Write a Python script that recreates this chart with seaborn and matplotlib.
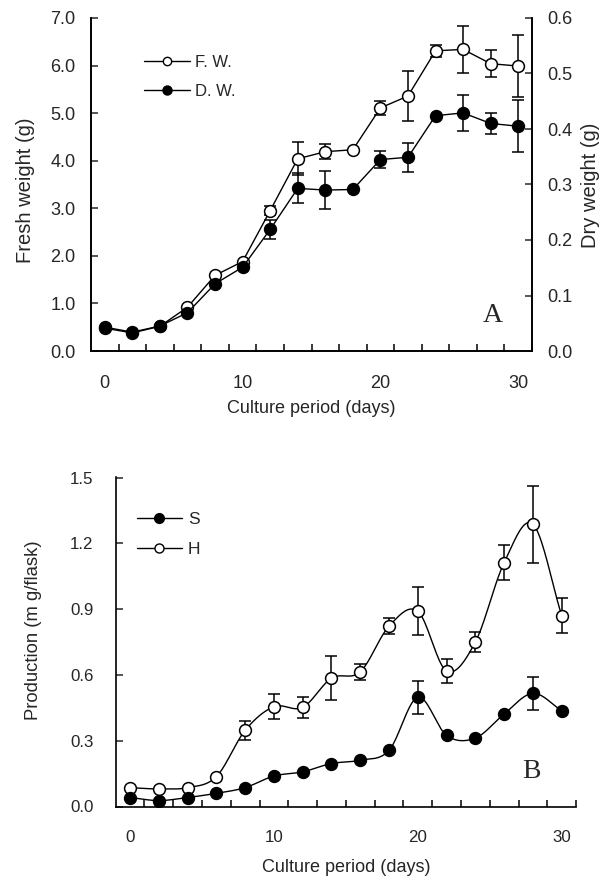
import numpy as np
import pandas as pd
import matplotlib
matplotlib.use("Agg")
import matplotlib.pyplot as plt
from matplotlib.lines import Line2D
from matplotlib.ticker import FormatStrFormatter, MultipleLocator, FixedLocator
from matplotlib import font_manager
import seaborn as sns

# ---------------- data ----------------
days = [0, 2, 4, 6, 8, 10, 12, 14, 16, 18, 20, 22, 24, 26, 28, 30]

# Panel A: fresh weight (g, left axis) and dry weight (g, right axis)
fresh_weight = [0.48, 0.38, 0.52, 0.92, 1.59, 1.88, 2.95, 4.04, 4.19, 4.23, 5.11, 5.36, 6.31, 6.34, 6.04, 5.99]
fresh_err = [0.0, 0.0, 0.0, 0.0, 0.0, 0.0, 0.10, 0.35, 0.16, 0.0, 0.15, 0.53, 0.13, 0.50, 0.28, 0.65]
dry_weight = [0.043, 0.034, 0.045, 0.069, 0.121, 0.151, 0.219, 0.293, 0.290, 0.291, 0.345, 0.349, 0.424, 0.429, 0.410, 0.405]
dry_err = [0.0, 0.0, 0.0, 0.0, 0.0, 0.0, 0.017, 0.027, 0.034, 0.0, 0.015, 0.026, 0.0, 0.032, 0.019, 0.047]

# Panel B: production (mg/flask)
prod_S = [0.041, 0.027, 0.041, 0.060, 0.086, 0.139, 0.158, 0.196, 0.211, 0.256, 0.498, 0.324, 0.312, 0.422, 0.516, 0.437]
err_S = [0, 0, 0, 0, 0, 0, 0, 0, 0, 0, 0.075, 0, 0, 0, 0.075, 0]
prod_H = [0.086, 0.080, 0.086, 0.136, 0.347, 0.455, 0.452, 0.585, 0.614, 0.822, 0.890, 0.618, 0.750, 1.112, 1.287, 0.870]
err_H = [0, 0, 0, 0, 0.045, 0.056, 0.047, 0.10, 0.037, 0.037, 0.11, 0.056, 0.045, 0.08, 0.175, 0.08]

legend_A = ["F. W.", "D. W."]
legend_B = ["S", "H"]

# ---------------- style ----------------
sns.set_theme(style="ticks")
plt.rcParams["font.family"] = ["Liberation Sans", "DejaVu Sans"]
plt.rcParams["axes.linewidth"] = 1.2

names = {f.name for f in font_manager.fontManager.ttflist}
TICKFONT = "Liberation Sans Narrow" if "Liberation Sans Narrow" in names else "Liberation Sans"
tick_scale = 1.0 if TICKFONT == "Liberation Sans Narrow" else 0.9

W, H = 614, 881
fig = plt.figure(figsize=(W / 100, H / 100), dpi=100)


def px_axes(l, t, r, b):
    return fig.add_axes([l / W, 1 - b / H, (r - l) / W, (b - t) / H])


def smooth(x, y, n=20):
    # Catmull-Rom style rendering of the line through the data points
    x = np.asarray(x, float)
    y = np.asarray(y, float)
    m = np.gradient(y, x)
    xs, ys = [], []
    for i in range(len(x) - 1):
        h = x[i + 1] - x[i]
        t = np.linspace(0, 1, n, endpoint=False)
        h00 = 2 * t**3 - 3 * t**2 + 1
        h10 = t**3 - 2 * t**2 + t
        h01 = -2 * t**3 + 3 * t**2
        h11 = t**3 - t**2
        xs.append(x[i] + t * h)
        ys.append(h00 * y[i] + h10 * h * m[i] + h01 * y[i + 1] + h11 * h * m[i + 1])
    xs.append([x[-1]])
    ys.append([y[-1]])
    return np.concatenate(xs), np.concatenate(ys)


def set_tickfont(ax, size):
    for lab in ax.get_xticklabels() + ax.get_yticklabels():
        lab.set_family([TICKFONT, "DejaVu Sans"])
        lab.set_fontsize(size * tick_scale)


def style_x(ax, labelpad):
    ax.set_xlim(-1, 31)
    ax.xaxis.set_major_locator(FixedLocator([0, 10, 20, 30]))
    ax.xaxis.set_minor_locator(FixedLocator(list(range(1, 32, 2))))
    ax.tick_params(axis="x", which="major", length=0, pad=17)
    ax.tick_params(axis="x", which="minor", direction="in", length=5, width=1.1, color="black")
    ax.set_xlabel("Culture period (days)", fontsize=13, labelpad=labelpad)


ebkw = dict(fmt="none", ecolor="black", elinewidth=1.1, capsize=4.5, capthick=1.1)

# ---------------- Panel A ----------------
axA = px_axes(91, 18, 532, 351)
axA2 = axA.twinx()

axA.errorbar(days, fresh_weight, yerr=fresh_err, zorder=2, **ebkw)
sns.lineplot(x=days, y=fresh_weight, ax=axA, color="black", linewidth=1.0,
             marker="o", markersize=8.5, markerfacecolor="white",
             markeredgecolor="black", markeredgewidth=1.1, zorder=3)
axA2.errorbar(days, dry_weight, yerr=dry_err, zorder=2, **ebkw)
sns.lineplot(x=days, y=dry_weight, ax=axA2, color="black", linewidth=1.0,
             marker="o", markersize=8.5, markerfacecolor="black",
             markeredgecolor="black", markeredgewidth=1.1, zorder=3)

axA.set_ylim(0, 7)
axA.yaxis.set_major_locator(MultipleLocator(1.0))
axA.yaxis.set_major_formatter(FormatStrFormatter("%.1f"))
axA2.set_ylim(0, 0.6)
axA2.yaxis.set_major_locator(MultipleLocator(0.1))
axA2.yaxis.set_major_formatter(FormatStrFormatter("%.1f"))
style_x(axA, 6)
axA.tick_params(axis="y", direction="in", length=5, width=1.1, pad=11)
axA2.tick_params(axis="y", direction="in", length=5, width=1.1, pad=11)
set_tickfont(axA, 14.5)
set_tickfont(axA2, 14.5)
axA.set_ylabel("Fresh weight (g)", fontsize=14.5)
axA.yaxis.set_label_coords(-0.127, 0.483)
axA2.set_ylabel("Dry weight (g)", fontsize=14.5)
axA2.yaxis.set_label_coords(1.112, 0.498)
for a in (axA, axA2):
    a.spines["top"].set_visible(False)
    for s in ("left", "right", "bottom"):
        a.spines[s].set_color("black")
        a.spines[s].set_linewidth(1.2)
axA.text(0.911, 0.108, "A", transform=axA.transAxes, ha="center", va="center",
         fontsize=20, family=["Liberation Serif", "DejaVu Serif"])

hA = [Line2D([], [], color="black", lw=1.0, marker="o", ms=6, mfc="white", mec="black", mew=1.0),
      Line2D([], [], color="black", lw=1.0, marker="o", ms=6.5, mfc="black", mec="black")]
legA = axA.legend(hA, legend_A, loc="upper left", bbox_to_anchor=(144 / W, 1 - 55 / H),
                  bbox_transform=fig.transFigure, frameon=False, fontsize=12,
                  handlelength=2.75, handletextpad=0.3, labelspacing=0.82,
                  borderpad=0, borderaxespad=0)
legA.set_zorder(10)

# ---------------- Panel B ----------------
axB = px_axes(115.6, 477.5, 576.1, 806.5)
axB.errorbar(days, prod_H, yerr=err_H, zorder=2, **ebkw)
axB.errorbar(days, prod_S, yerr=err_S, zorder=2, **ebkw)
xh, yh = smooth(days, prod_H)
xs_, ys_ = smooth(days, prod_S)
sns.lineplot(x=xh, y=yh, ax=axB, color="black", linewidth=1.0, sort=False, zorder=3)
sns.lineplot(x=xs_, y=ys_, ax=axB, color="black", linewidth=1.0, sort=False, zorder=3)
axB.plot(days, prod_H, linestyle="none", marker="o", ms=8.5, mfc="white", mec="black", mew=1.1, zorder=4)
axB.plot(days, prod_S, linestyle="none", marker="o", ms=8.5, mfc="black", mec="black", mew=1.1, zorder=4)

axB.set_ylim(0, 1.5)
axB.yaxis.set_major_locator(MultipleLocator(0.3))
axB.yaxis.set_major_formatter(FormatStrFormatter("%.1f"))
style_x(axB, 10)
axB.tick_params(axis="y", direction="in", length=5, width=1.1, pad=16)
set_tickfont(axB, 13.5)
axB.set_ylabel("Production (m g/flask)", fontsize=13.3)
axB.yaxis.set_label_coords(-0.160, 0.535)
axB.spines["top"].set_visible(False)
axB.spines["right"].set_visible(False)
for s in ("left", "bottom"):
    axB.spines[s].set_color("black")
    axB.spines[s].set_linewidth(1.2)
axB.text(0.9036, 0.105, "B", transform=axB.transAxes, ha="center", va="center",
         fontsize=20, family=["Liberation Serif", "DejaVu Serif"])

hB = [Line2D([], [], color="black", lw=1.0, marker="o", ms=7, mfc="black", mec="black"),
      Line2D([], [], color="black", lw=1.0, marker="o", ms=6.5, mfc="white", mec="black", mew=1.0)]
axB.legend(hB, legend_B, loc="upper left", bbox_to_anchor=(136.7 / W, 1 - 512 / H),
           bbox_transform=fig.transFigure, frameon=False, fontsize=12.5,
           handlelength=2.6, handletextpad=0.35, labelspacing=0.85,
           borderpad=0, borderaxespad=0)

fig.savefig("out.png", dpi=100)
